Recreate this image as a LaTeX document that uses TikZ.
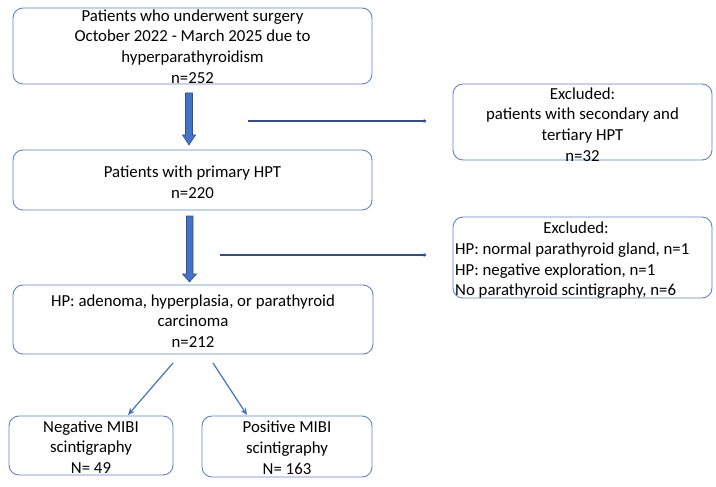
\documentclass[tikz,border=0pt]{standalone}
\usepackage{fontspec}
\setmainfont{Carlito}
\usetikzlibrary{arrows.meta}
\definecolor{boxblue}{HTML}{5B83CF}
\definecolor{fillblue}{HTML}{4472C4}
\definecolor{edgeblue}{HTML}{2F528F}
\definecolor{navy}{HTML}{2F4F8A}
\begin{document}
\begin{tikzpicture}[x=1pt,y=-1pt,
  box/.style={draw=boxblue,line width=0.9pt,rounded corners=10pt,inner sep=0pt},
  txt/.style={align=center,inner sep=0pt,font=\fontsize{16.8}{20.8}\selectfont},
  txtl/.style={align=left,inner sep=0pt,font=\fontsize{16.8}{20.8}\selectfont},
  harrow/.style={draw=navy,line width=2pt,-{Stealth[length=3pt,width=4pt]}},
  darrow/.style={draw=fillblue,line width=1.2pt,-{Stealth[length=7pt,width=6pt]}},
  blockarrow/.style={fill=fillblue,draw=edgeblue,line width=0.6pt}]
\useasboundingbox (0,0) rectangle (716,487);
% boxes
\node[box,minimum width=359pt,minimum height=76pt] (b1) at (192.5,46) {};
\node[txt] (t1) at (192.5,46.5) {Patients who underwent surgery\\October 2022 - March 2025 due to\\hyperparathyroidism\\n=252};
\node[box,minimum width=359pt,minimum height=60pt] (b2) at (192.5,180) {};
\node[txt] (t2) at (192.5,182.5) {Patients with primary HPT\\n=220};
\node[box,minimum width=259pt,minimum height=76pt] (e1) at (582.5,122) {};
\node[txt] (te1) at (582.5,124.5) {Excluded:\\patients with secondary and\\tertiary HPT\\n=32};
\node[box,minimum width=259pt,minimum height=81pt] (e2) at (582.5,257.5) {};
\node[txt] (te2a) at (576,228) {Excluded:};
\node[txtl,anchor=north west] (te2b) at (455,242.5) {HP: normal parathyroid gland, n=1\\HP: negative exploration, n=1\\No parathyroid scintigraphy, n=6};
\node[box,minimum width=360pt,minimum height=69pt] (b3) at (193,319.5) {};
\node[txt] (t3) at (193,321) {HP: adenoma, hyperplasia, or parathyroid\\carcinoma\\n=212};
\node[box,minimum width=164pt,minimum height=59pt] (b4) at (91,445.5) {};
\node[txt] (t4) at (91,447) {Negative MIBI\\scintigraphy\\N= 49};
\node[box,minimum width=170pt,minimum height=61pt] (b5) at (287,446.5) {};
\node[txt] (t5) at (287,448) {Positive MIBI\\scintigraphy\\N= 163};
% block arrows
\draw[blockarrow] (185.5,93) -- (192.5,93) -- (192.5,135) -- (195.5,135) -- (189,145) -- (182.5,135) -- (185.5,135) -- cycle;
\draw[blockarrow] (186.5,216) -- (193,216) -- (193,274) -- (196.5,274) -- (189.5,282) -- (182.5,274) -- (186.5,274) -- cycle;
% horizontal arrows
\coordinate (h1s) at (248,121);
\coordinate (h2s) at (220,255);
\draw[harrow] (h1s) -- ([xshift=-26pt]h1s -| e1.west);
\draw[harrow] (h2s) -- ([xshift=-26pt]h2s -| e2.west);
% diagonal arrows
\coordinate (d1s) at (173,363);
\coordinate (d1e) at (128,415);
\coordinate (d2s) at (213,363);
\coordinate (d2e) at (247,415);
\draw[darrow] (d1s) -- (d1e);
\draw[darrow] (d2s) -- (d2e);
\end{tikzpicture}
\end{document}
